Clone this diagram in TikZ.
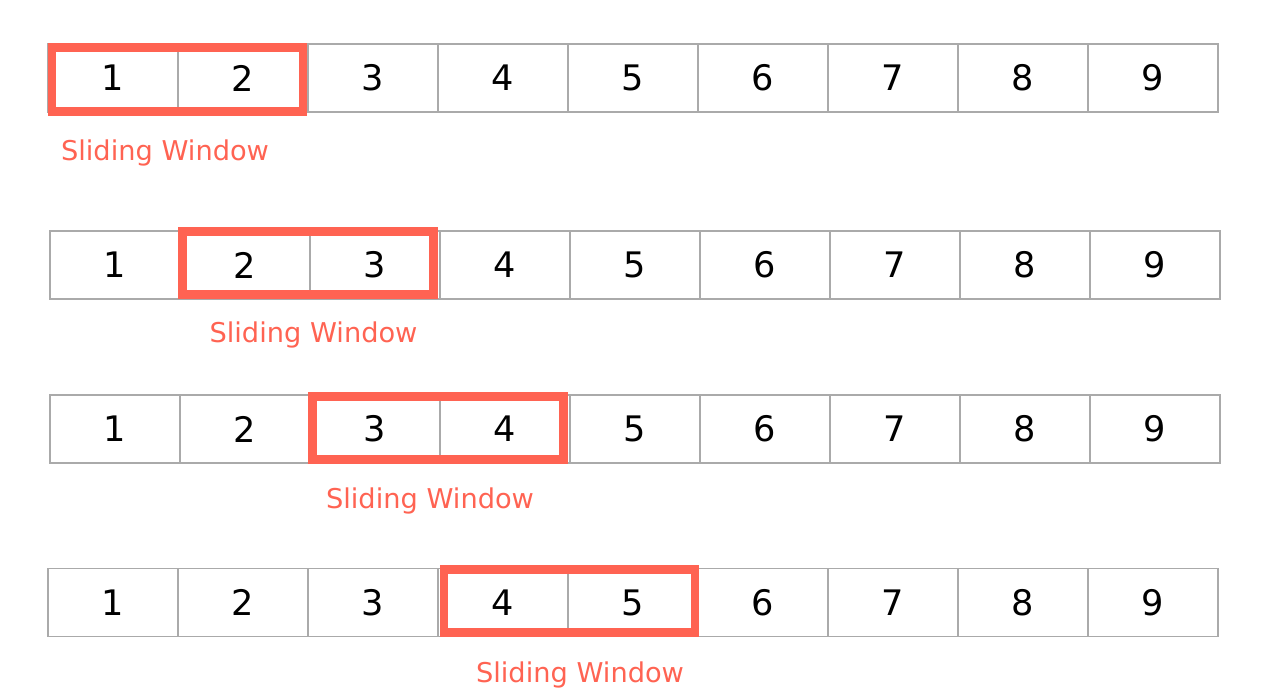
\documentclass[tikz,border=0pt]{standalone}
\usepackage{fontspec}
\setmainfont{DejaVu Sans}
\definecolor{windowRed}{HTML}{FF6352}
\definecolor{cellGray}{HTML}{AAAAAA}
\tikzset{
	cell/.style={draw=cellGray, line width=0.6pt, rectangle, minimum width=26mm, minimum height=13.6mm, inner sep=0pt, font=\fontsize{20}{24}\selectfont, text centered},
	window/.style={draw=windowRed, line width=5pt, rectangle, minimum width=50.2mm, minimum height=12.6mm, inner sep=0pt},
	windowText/.style={text=windowRed, anchor=base, inner sep=0pt, font=\fontsize{15.5}{18}\selectfont}
}
\begin{document}
\begin{tikzpicture}[x=0.2mm, y=-0.2mm]
			
			\useasboundingbox (0,0) rectangle (1264,696);
			
			%First step
			\node (rowA1) at (113,78) [cell]{1};
			\node (rowA2) at (243,78) [cell]{2};
			\node (rowA3) at (373,78) [cell]{3};
			\node (rowA4) at (503,78) [cell]{4};
			\node (rowA5) at (633,78) [cell]{5};
			\node (rowA6) at (763,78) [cell]{6};
			\node (rowA7) at (893,78) [cell]{7};
			\node (rowA8) at (1023,78) [cell]{8};
			\node (rowA9) at (1153,78) [cell]{9};
			
			%Window over 1 and 2
			\node (windowA) at (177.5,79.5) [window, minimum height=12.8mm]{};
			\node (labelA) at (165,160) [windowText]{Sliding Window};
			
			%Second step
			\node (rowB1) at (115,265) [cell]{1};
			\node (rowB2) at (245,265) [cell]{2};
			\node (rowB3) at (375,265) [cell]{3};
			\node (rowB4) at (505,265) [cell]{4};
			\node (rowB5) at (635,265) [cell]{5};
			\node (rowB6) at (765,265) [cell]{6};
			\node (rowB7) at (895,265) [cell]{7};
			\node (rowB8) at (1025,265) [cell]{8};
			\node (rowB9) at (1155,265) [cell]{9};
			
			%Window over 2 and 3
			\node (windowB) at (308,263) [window]{};
			\node (labelB) at (313.5,342) [windowText]{Sliding Window};
			
			%Third step
			\node (rowC1) at (115,429) [cell]{1};
			\node (rowC2) at (245,429) [cell]{2};
			\node (rowC3) at (375,429) [cell]{3};
			\node (rowC4) at (505,429) [cell]{4};
			\node (rowC5) at (635,429) [cell]{5};
			\node (rowC6) at (765,429) [cell]{6};
			\node (rowC7) at (895,429) [cell]{7};
			\node (rowC8) at (1025,429) [cell]{8};
			\node (rowC9) at (1155,429) [cell]{9};
			
			%Window over 3 and 4
			\node (windowC) at (438,428) [window]{};
			\node (labelC) at (430,508) [windowText]{Sliding Window};
			
			%Fourth step
			\node (rowD1) at (113,602.5) [cell]{1};
			\node (rowD2) at (243,602.5) [cell]{2};
			\node (rowD3) at (373,602.5) [cell]{3};
			\node (rowD4) at (503,602.5) [cell]{4};
			\node (rowD5) at (633,602.5) [cell]{5};
			\node (rowD6) at (763,602.5) [cell]{6};
			\node (rowD7) at (893,602.5) [cell]{7};
			\node (rowD8) at (1023,602.5) [cell]{8};
			\node (rowD9) at (1153,602.5) [cell]{9};
			
			%Window over 4 and 5
			\node (windowD) at (569.5,601) [window]{};
			\node (labelD) at (580,682) [windowText]{Sliding Window};
			
\end{tikzpicture}
\end{document}
